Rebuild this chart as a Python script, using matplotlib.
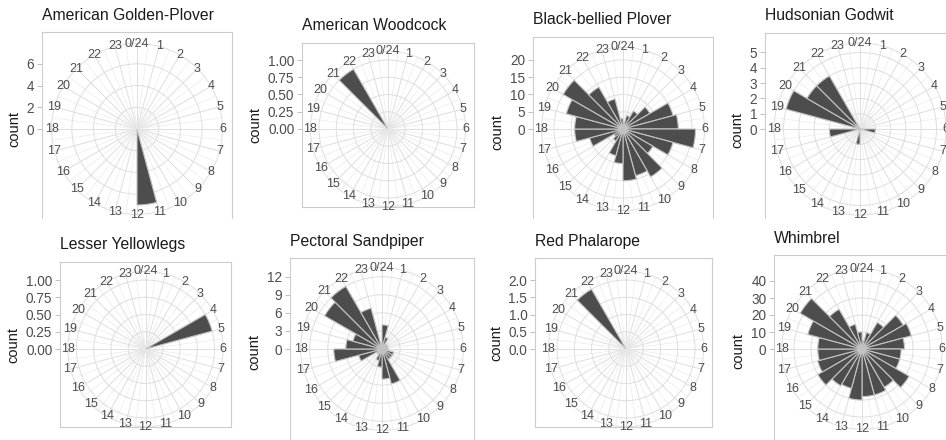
import numpy as np
import matplotlib
matplotlib.use("Agg")
import matplotlib.pyplot as plt

plt.rcParams['font.family'] = ['Liberation Sans', 'DejaVu Sans']

W_PX, H_PX = 946, 440

hours = np.arange(24)
hour_labels = ['0/24'] + [str(h) for h in range(1, 24)]

species = ['American Golden-Plover', 'American Woodcock', 'Black-bellied Plover',
           'Hudsonian Godwit', 'Lesser Yellowlegs', 'Pectoral Sandpiper',
           'Red Phalarope', 'Whimbrel']

# counts per hour of day, 0..23
golden_plover = [0, 0, 0, 0, 0, 0, 0, 0, 0, 0, 0, 7, 0, 0, 0, 0, 0, 0, 0, 0, 0, 0, 0, 0]
woodcock = [0, 0, 0, 0, 0, 0, 0, 0, 0, 0, 0, 0, 0, 0, 0, 0, 0, 0, 0, 0, 0, 1, 0, 0]
bb_plover = [2, 4, 6, 9, 15, 16, 21, 15, 10, 16, 14, 15, 10, 8, 4, 3, 10, 14, 14, 17, 20, 14, 9, 3]
godwit = [0, 0, 0, 0, 0, 0, 1, 0, 0, 0, 0, 0, 1, 0, 0, 0, 0, 2, 0, 5, 4, 4, 0, 0]
yellowlegs = [0, 0, 0, 0, 1, 0, 0, 0, 0, 0, 0, 0, 0, 0, 0, 0, 0, 0, 0, 0, 0, 0, 0, 0]
sandpiper = [4, 2, 1, 1, 1, 1, 1, 2, 2, 2, 6, 5, 3, 2, 1, 1, 4, 8, 6, 5, 11, 12, 7, 1]
phalarope = [0, 0, 0, 0, 0, 0, 0, 0, 0, 0, 0, 0, 0, 0, 0, 0, 0, 0, 0, 0, 0, 2, 0, 0]
whimbrel = [5, 10, 18, 28, 30, 25, 23, 23, 32, 26, 28, 28, 30, 24, 25, 30, 27, 26, 26, 33, 42, 27, 15, 10]

all_counts = [golden_plover, woodcock, bb_plover, godwit,
              yellowlegs, sandpiper, phalarope, whimbrel]

y_breaks = [[0, 2, 4, 6], [0, 0.25, 0.5, 0.75, 1.0], [0, 5, 10, 15, 20], [0, 1, 2, 3, 4, 5],
            [0, 0.25, 0.5, 0.75, 1.0], [0, 3, 6, 9, 12], [0, 0.5, 1.0, 1.5, 2.0],
            [0, 10, 20, 30, 40]]
y_fmt = ['%d', '%.2f', '%d', '%d', '%.2f', '%d', '%.1f', '%d']

# panel box (left, top, right, bottom), circle centre and radius, in pixels
layout = [
    ((42, 32, 232, 226), (137, 129), 76),
    ((302, 43, 474, 207), (388, 129), 69),
    ((533, 37, 713, 226), (623, 129), 72.5),
    ((765, 33, 955, 226), (860, 129), 76.5),
    ((60, 262, 231, 427), (145.5, 349), 69),
    ((290, 258, 474, 446), (382, 349), 72.3),
    ((535, 258, 712, 427), (626, 349), 69),
    ((774, 255, 952, 446), (862, 349), 71.4),
]

GRID = '#dedede'
TEXT = '#4d4d4d'


def frac(l, t, r, b):
    return [l / W_PX, 1 - b / H_PX, (r - l) / W_PX, (b - t) / H_PX]


def draw_panel(fig, title, counts, breaks, fmt, box, center, radius, z):
    left, top, right, bottom = box
    cx, cy = center
    rmax = max(counts)
    scale = rmax / radius

    frame = fig.add_axes(frac(left, top, right, bottom), zorder=z)
    frame.set_xlim((left - cx) * scale, (right - cx) * scale)
    frame.set_ylim((cy - bottom) * scale, (cy - top) * scale)
    frame.set_xticks([])
    frame.set_yticks(breaks)
    frame.set_yticklabels([fmt % b for b in breaks])
    frame.tick_params(axis='y', length=3.5, width=0.6, color='#b3b3b3',
                      labelcolor=TEXT, labelsize=9.8, pad=2)
    for sp in frame.spines.values():
        sp.set_color('#cccccc')
        sp.set_linewidth(0.8)
    frame.set_ylabel('count', fontsize=10.5, color='#1a1a1a', labelpad=4)
    fig.text(left / W_PX, 1 - (top - 17) / H_PX, title, fontsize=11.3,
             color='#1a1a1a', ha='left', va='center', zorder=z)

    hs = 1.125 * radius
    ax = fig.add_axes(frac(cx - hs, cy - hs, cx + hs, cy + hs),
                      projection='polar', zorder=z + 1)
    ax.patch.set_alpha(0)
    ax.set_theta_zero_location('N')
    ax.set_theta_direction(-1)
    ax.set_rlim(0, 1.125 * rmax)
    ax.set_xticks(np.deg2rad(hours * 15))
    ax.set_xticks(np.deg2rad(hours * 15 + 7.5), minor=True)
    ax.set_xticklabels([])
    ax.set_yticks([b for b in breaks if b > 0])
    ax.set_yticklabels([])
    ax.tick_params(length=0, which='both')
    ax.xaxis.grid(True, which='major', color=GRID, lw=0.7)
    ax.xaxis.grid(True, which='minor', color='#e9e9e9', lw=0.45)
    ax.yaxis.grid(True, color=GRID, lw=0.7)
    ax.spines['polar'].set_color(GRID)
    ax.spines['polar'].set_linewidth(0.7)

    ax.bar(np.deg2rad(hours * 15), counts, width=np.deg2rad(15), align='edge',
           color='#4d4d4d', edgecolor='#c4c4c4', linewidth=0.8, zorder=3)

    for h, lab in zip(hours, hour_labels):
        ax.text(np.deg2rad(h * 15), 1.125 * rmax, lab, ha='center', va='center',
                fontsize=9, color=TEXT, clip_on=False, zorder=4)


fig = plt.figure(figsize=(W_PX / 100, H_PX / 100), dpi=100)

for i in range(4):
    box, center, radius = layout[i]
    draw_panel(fig, species[i], all_counts[i], y_breaks[i], y_fmt[i],
               box, center, radius, 1)

# the lower row sits on its own white strip, hiding what spills from above
cover = fig.add_axes([0, 0, 1, (H_PX - 219) / H_PX], zorder=5)
cover.set_axis_off()
cover.add_patch(plt.Rectangle((0, 0), 1, 1, color='white', transform=cover.transAxes))

for i in range(4, 8):
    box, center, radius = layout[i]
    draw_panel(fig, species[i], all_counts[i], y_breaks[i], y_fmt[i],
               box, center, radius, 10)

fig.savefig('out.png', dpi=100)
